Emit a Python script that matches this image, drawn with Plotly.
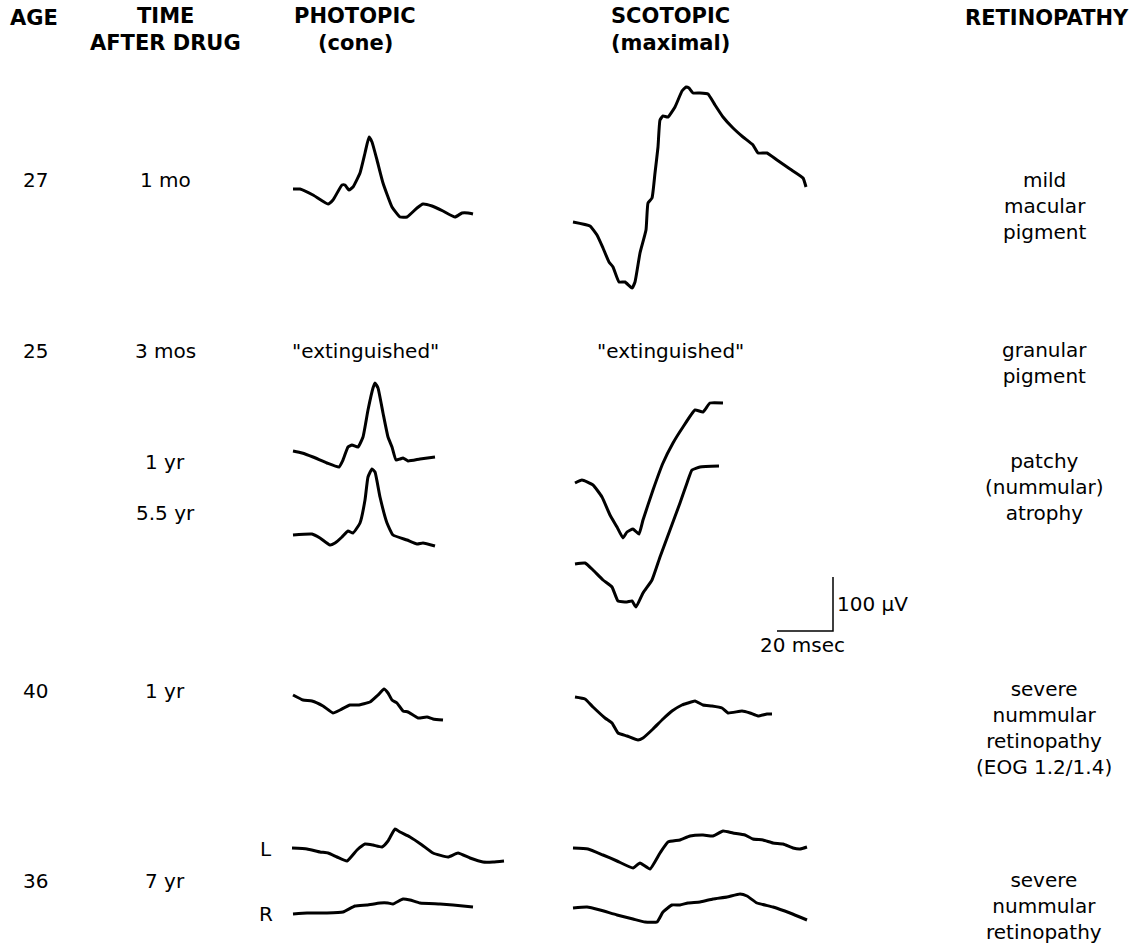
import plotly.graph_objects as go

W, H = 1136, 943

# ---- waveform traces (x, y in page pixel units) ----
phot_27_x = [293,300,313,328,333,342,345,349,353,360,365,369,372,377,383,392,400,407,417,423,432,443,455,462,468,473]
phot_27_y = [189,189,195,204,200,185,185,190,187,173,153,137,142,160,183,207,217,217,208,204,206,211,217,213,213,214]

scot_27_x = [573,590,597,603,609,613,619,625,632,635,640,646,648,652,655,658,660,663,668,675,682,686,689,693,700,708,715,723,733,743,753,758,767,777,790,803,806]
scot_27_y = [222,226,235,248,262,267,282,282,288,282,253,230,203,198,173,147,120,116,117,107,91,87,88,93,93,94,105,117,128,137,145,153,153,160,169,178,187]

phot_1yr_x = [293,302,313,327,339,343,348,352,358,363,368,373,375,378,383,388,392,396,400,403,408,420,435]
phot_1yr_y = [451,453,457,463,467,460,447,445,447,437,410,388,383,388,413,437,447,460,459,458,461,459,457]

phot_55_x = [293,312,320,330,335,342,348,353,360,365,368,372,375,380,387,393,407,417,423,435]
phot_55_y = [535,534,538,545,543,537,531,533,523,500,477,469,472,497,523,535,540,544,543,546]

scot_1yr_x = [575,582,593,602,610,617,623,627,633,639,643,653,663,673,683,695,703,710,723]
scot_1yr_y = [483,480,485,497,515,527,538,532,529,534,520,490,463,443,427,410,412,403,403]

scot_55_x = [575,585,593,603,612,618,627,632,636,643,652,660,670,680,687,692,700,719]
scot_55_y = [564,563,570,580,587,601,602,601,607,593,580,557,530,503,483,470,467,466]

phot_40_x = [293,303,312,323,333,340,350,358,370,378,384,388,392,397,403,408,418,427,433,443]
phot_40_y = [695,700,701,706,713,710,705,705,702,695,689,693,700,703,711,712,718,717,719,720]

scot_40_x = [575,585,593,605,612,618,627,638,643,653,663,672,682,688,695,703,712,722,728,742,750,758,767,772]
scot_40_y = [697,699,707,718,723,733,736,740,738,729,719,711,705,703,701,705,706,708,713,711,713,716,714,714]

phot_L_x = [292,307,320,328,337,347,357,365,373,382,388,395,400,410,422,433,448,458,470,483,493,504]
phot_L_y = [848,849,852,853,857,861,850,844,845,847,841,829,832,837,845,853,857,853,858,862,862,861]

phot_R_x = [293,307,317,327,343,355,367,380,388,393,403,410,420,440,453,473]
phot_R_y = [914,913,913,913,912,906,905,903,903,904,899,900,903,904,905,907]

scot_L_x = [573,588,603,617,633,640,650,660,668,680,690,703,713,723,733,745,753,763,773,783,793,800,807]
scot_L_y = [848,849,855,861,868,863,869,853,842,840,836,835,836,831,833,835,839,840,843,844,848,849,847]

scot_R_x = [573,587,600,617,633,645,657,663,672,680,688,700,713,727,740,747,757,773,790,807]
scot_R_y = [908,907,910,915,919,922,922,912,905,905,903,902,899,897,894,896,903,907,913,920]

traces = [
    (phot_27_x, phot_27_y), (scot_27_x, scot_27_y),
    (phot_1yr_x, phot_1yr_y), (phot_55_x, phot_55_y),
    (scot_1yr_x, scot_1yr_y), (scot_55_x, scot_55_y),
    (phot_40_x, phot_40_y), (scot_40_x, scot_40_y),
    (phot_L_x, phot_L_y), (phot_R_x, phot_R_y),
    (scot_L_x, scot_L_y), (scot_R_x, scot_R_y),
]

# calibration bar (100 uV / 20 msec)
cal_x = [833, 833, 777]
cal_y = [577, 631, 631]

# ---- text ----
headers = [("AGE", 34, 18), ("TIME", 165, 16), ("AFTER DRUG", 165, 43),
           ("PHOTOPIC", 355, 16), ("(cone)", 355, 43),
           ("SCOTOPIC", 670, 16), ("(maximal)", 670, 43)]
ages = [("27", 35, 180), ("25", 35, 351), ("40", 35, 691), ("36", 35, 881)]
times = [("1 mo", 165, 180), ("3 mos", 165, 351), ("1 yr", 165, 462), ("5.5 yr", 165, 513),
         ("1 yr", 165, 691), ("7 yr", 165, 881)]
notes = [('"extinguished"', 365, 351), ('"extinguished"', 670, 351), ("L", 266, 849), ("R", 266, 914)]
retino = [("mild<br>macular<br>pigment", 1044, 206), ("granular<br>pigment", 1044, 363),
          ("patchy<br>(nummular)<br>atrophy", 1044, 487),
          ("severe<br>nummular<br>retinopathy<br>(EOG 1.2/1.4)", 1044, 728),
          ("severe<br>nummular<br>retinopathy", 1044, 906)]

fig = go.Figure()
for tx, ty in traces:
    fig.add_trace(go.Scatter(x=tx, y=ty, mode="lines", line=dict(color="black", width=3, shape="spline", smoothing=0.4),
                             hoverinfo="skip", showlegend=False))
fig.add_trace(go.Scatter(x=cal_x, y=cal_y, mode="lines", line=dict(color="black", width=1.5),
                         hoverinfo="skip", showlegend=False))

BODY = dict(family="DejaVu Sans", size=20, color="black")
BOLD = dict(family="DejaVu Sans", size=21, color="black", weight="bold")

ann = []
for t, x, y in headers:
    ann.append(dict(text="<b>%s</b>" % t, x=x, y=y, font=BOLD, xanchor="center"))
ann.append(dict(text="<b>RETINOPATHY</b>", x=1130, y=18, font=BOLD, xanchor="right"))
for t, x, y in ages + times + notes + retino:
    ann.append(dict(text=t, x=x, y=y, font=BODY, xanchor="center"))
ann.append(dict(text="100 \u03bcV", x=872, y=604, font=BODY, xanchor="center"))
ann.append(dict(text="20 msec", x=802, y=645, font=BODY, xanchor="center"))
for a in ann:
    a.update(xref="x", yref="y", showarrow=False, yanchor="middle", align="center", borderpad=0)

fig.update_layout(
    width=W, height=H, margin=dict(l=0, r=0, t=0, b=0),
    paper_bgcolor="white", plot_bgcolor="white",
    xaxis=dict(range=[0, W], visible=False, fixedrange=True),
    yaxis=dict(range=[H, 0], visible=False, fixedrange=True),
    annotations=ann,
)
fig.write_html("out.html", config={"displayModeBar": False},
               post_script="document.body.style.margin='0px';document.body.style.padding='0px';")
